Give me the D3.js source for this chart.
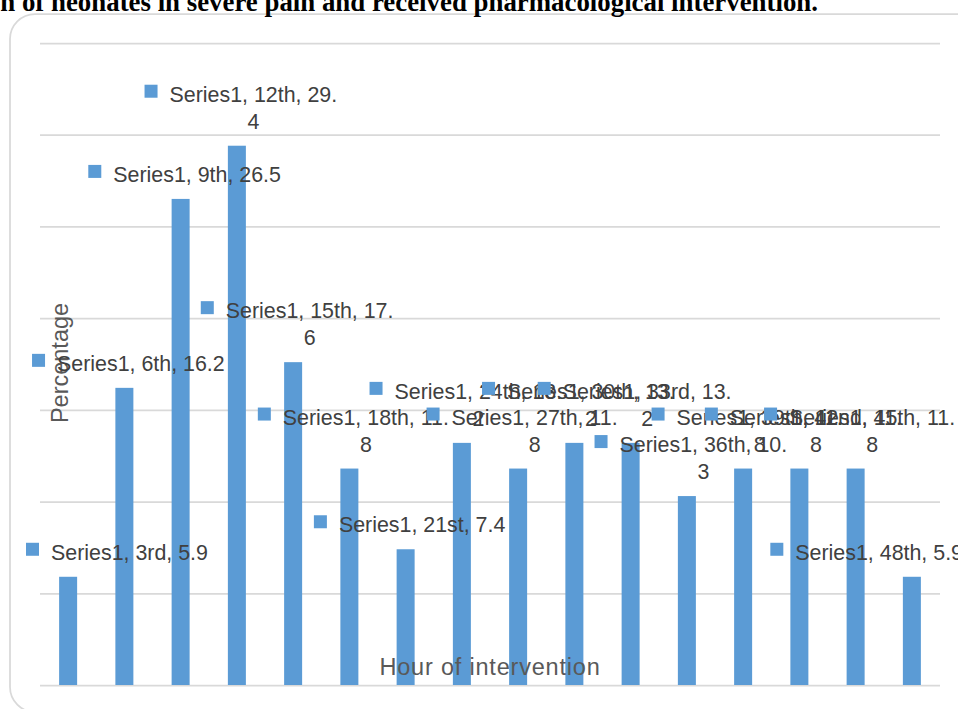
<!DOCTYPE html>
<html>
<head>
<meta charset="utf-8">
<script src="https://cdn.jsdelivr.net/npm/d3@7"></script>
<style>
  html, body { margin: 0; padding: 0; background: #ffffff; overflow: hidden; }
  svg { display: block; }
</style>
</head>
<body>
<svg id="chart" width="958" height="709"></svg>
<script>
// ---- Data ----
const seriesName = "Series1";
const categories = ["3rd", "6th", "9th", "12th", "15th", "18th", "21st", "24th",
                    "27th", "30th", "33rd", "36th", "39th", "42nd", "45th", "48th"];
const values = [5.9, 16.2, 26.5, 29.4, 17.6, 11.8, 7.4, 13.2,
                11.8, 13.2, 13.2, 10.3, 11.8, 11.8, 11.8, 5.9];
const yTicks = [0, 5, 10, 15, 20, 25, 30, 35];
const titleText = "Figure 2: Distribution of neonates in severe pain and received pharmacological intervention.";
const titleVisible = "n of neonates in severe pain and received pharmacological intervention.";
const xTitle = "Hour of intervention";
const yTitle = "Percentage";

// ---- Layout ----
const W = 958, H = 709;
const plot = { left: 40, right: 940, top: 43, bottom: 685 };
const barColor = "#5b9bd5";
const gridColor = "#d9d9d9";
const labelColor = "#404040";
const titleColor = "#595959";
const labelFont = "'Liberation Sans', Arial, sans-serif";

const svg = d3.select("#chart");

// outer chart border (rounded, extends beyond the visible frame)
svg.append("rect")
  .attr("x", 10).attr("y", 14)
  .attr("width", 1000).attr("height", 698)
  .attr("rx", 25).attr("ry", 25)
  .attr("fill", "#ffffff")
  .attr("stroke", gridColor).attr("stroke-width", 1.75);

// title (clipped by the viewport)
const title = svg.append("text")
  .attr("text-anchor", "end")
  .attr("x", 818).attr("y", 11)
  .attr("font-family", "'Liberation Serif', 'Times New Roman', serif")
  .attr("font-weight", "bold")
  .attr("font-size", 20)
  .attr("fill", "#000")
  .text(titleText);
// scale font so the visible part spans the frame
{
  const probe = svg.append("text")
    .attr("font-family", "'Liberation Serif', 'Times New Roman', serif")
    .attr("font-weight", "bold").attr("font-size", 20).text(titleVisible);
  const w = probe.node().getComputedTextLength();
  probe.remove();
  title.attr("font-size", 20 * 818 / w);
}

// scales
const x = d3.scaleBand()
  .domain(categories)
  .range([plot.left, plot.right])
  .paddingInner(0.68)
  .paddingOuter(0.34);
const y = d3.scaleLinear()
  .domain([0, 35])
  .range([plot.bottom, plot.top]);

// gridlines via axis
const gAxis = svg.append("g")
  .attr("transform", `translate(${plot.left},0)`)
  .call(d3.axisLeft(y).tickValues(yTicks).tickSize(-(plot.right - plot.left)).tickFormat(""));
gAxis.select(".domain").remove();
gAxis.selectAll(".tick line").attr("stroke", gridColor).attr("stroke-width", 1.75);

// bars
svg.append("g").selectAll("rect")
  .data(values)
  .join("rect")
  .attr("x", (d, i) => x(categories[i]))
  .attr("width", x.bandwidth())
  .attr("y", d => y(d))
  .attr("height", d => y(0) - y(d))
  .attr("fill", barColor);

// axis titles
svg.append("text")
  .attr("x", (plot.left + plot.right) / 2)
  .attr("y", 675)
  .attr("text-anchor", "middle")
  .attr("font-family", labelFont)
  .attr("font-size", 23.5)
  .attr("letter-spacing", 0.8)
  .attr("fill", titleColor)
  .text(xTitle);

svg.append("text")
  .attr("transform", "translate(68,363) rotate(-90)")
  .attr("text-anchor", "middle")
  .attr("font-family", labelFont)
  .attr("font-size", 23.5)
  .attr("fill", titleColor)
  .text(yTitle);

// data labels (callouts with legend key)
const fontSize = 21.4, lineH = 27, keySize = 13, keyGap = 12, maxChars = 18;
const minLeft = 26, maxRight = 963;
const gLabels = svg.append("g");
values.forEach((v, i) => {
  const full = `${seriesName}, ${categories[i]}, ${v.toFixed(1)}`;
  const lines = full.length > maxChars ? [full.slice(0, maxChars), full.slice(maxChars)] : [full];
  const g = gLabels.append("g");
  const t1 = g.append("text")
    .attr("font-family", labelFont).attr("font-size", fontSize)
    .attr("fill", labelColor).text(lines[0]);
  const w = t1.node().getComputedTextLength();
  const blockW = keySize + keyGap + w;
  const cx = x(categories[i]) + x.bandwidth() / 2 + 4;
  let left = cx - blockW / 2;
  if (left < minLeft) left = minLeft;
  if (left + blockW > maxRight) left = maxRight - blockW;
  const lastBase = y(v) - 17;
  const firstBase = lastBase - lineH * (lines.length - 1);
  const textX = left + keySize + keyGap;
  t1.attr("x", textX).attr("y", firstBase);
  g.append("rect")
    .attr("x", left).attr("y", firstBase - 17)
    .attr("width", keySize).attr("height", keySize)
    .attr("fill", barColor);
  if (lines.length > 1) {
    g.append("text")
      .attr("font-family", labelFont).attr("font-size", fontSize)
      .attr("fill", labelColor)
      .attr("text-anchor", "middle")
      .attr("x", textX + w / 2).attr("y", lastBase)
      .text(lines[1]);
  }
});
</script>
</body>
</html>
